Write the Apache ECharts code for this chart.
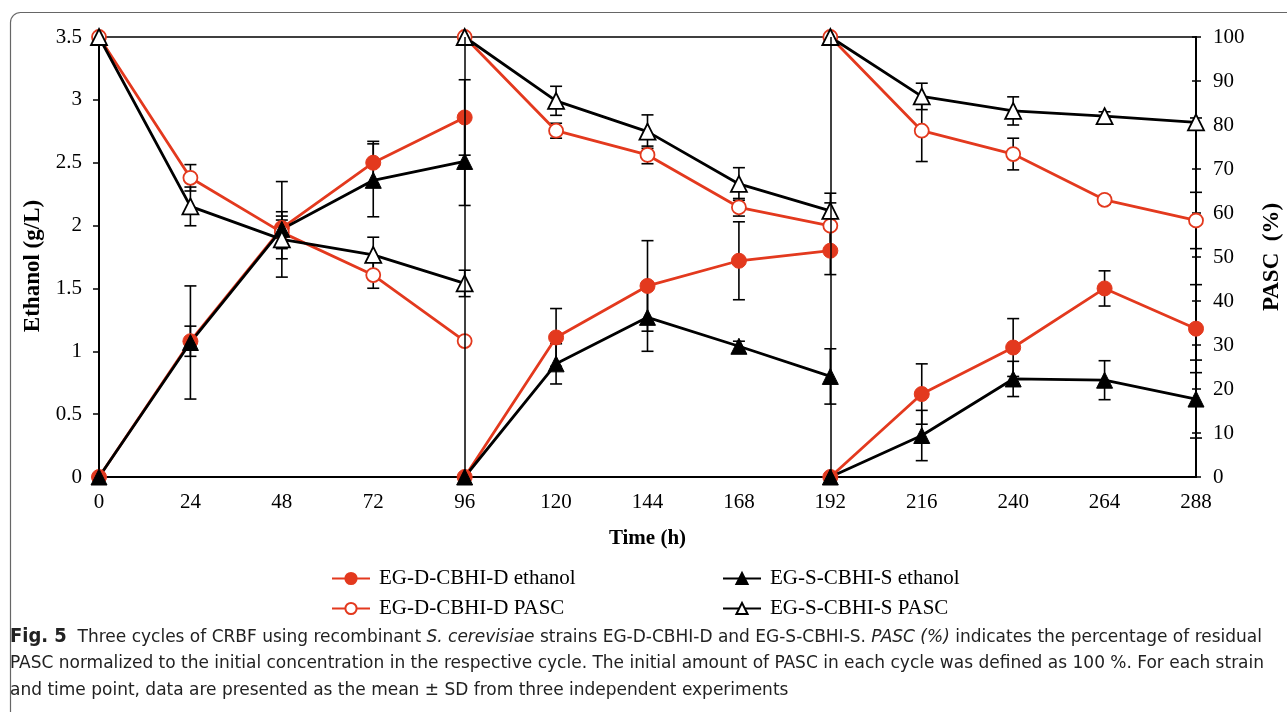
<!DOCTYPE html>
<html><head><meta charset="utf-8">
<script src="https://cdn.jsdelivr.net/npm/echarts@6/dist/echarts.min.js"></script>
<style>html,body{margin:0;padding:0;background:#fff}#c{width:1287px;height:712px}</style>
</head><body><div id="c"></div>
<script>
// Time points of the three cycles (each cycle restarts at its first point)
const timePoints = [0,24,48,72,96, 96,120,144,168,192, 192,216,240,264,288];
const cycleBreaks = [5,10];
const cycleSeparators = [96,192];

const redEthanol      = [0,1.08,1.98,2.50,2.86, 0,1.11,1.52,1.72,1.80, 0,0.66,1.03,1.50,1.18];
const redEthanolErr   = [0,0.12,0.13,0.17,0.30, 0,0.23,0.36,0.31,0.19, 0,0.24,0.23,0.14,0.35];
const blackEthanol    = [0,1.07,1.97,2.36,2.51, 0,0.90,1.27,1.04,0.80, 0,0.33,0.78,0.77,0.62];
const blackEthanolErr = [0,0.45,0.38,0.29,0.35, 0,0.16,0.27,0.04,0.22, 0,0.20,0.14,0.155,0.31];
const redPasc         = [100,68.0,55.6,45.9,30.9, 100,78.7,73.2,61.3,57.1, 100,78.7,73.4,63.0,58.3];
const redPascErr      = [0,3.0,3.7,3.0,0, 0,1.7,2.0,2.0,5.2, 0,7.0,3.6,1.0,6.4];
const blackPasc       = [100,61.5,54.0,50.5,44.0, 100,85.5,78.5,66.6,60.5, 100,86.5,83.2,82.0,80.6];
const blackPascErr    = [0,4.4,4.4,4.0,3.0, 0,3.3,3.8,3.7,4.0, 0,3.0,3.2,1.0,1.0];

const names = ['EG-D-CBHI-D ethanol','EG-S-CBHI-S ethanol','EG-D-CBHI-D PASC','EG-S-CBHI-S PASC'];
const captionLines = [
  '{b|Fig. 5}  Three cycles of CRBF using recombinant {i|S. cerevisiae} strains EG-D-CBHI-D and EG-S-CBHI-S. {i|PASC (%)} indicates the percentage of residual',
  'PASC normalized to the initial concentration in the respective cycle. The initial amount of PASC in each cycle was defined as 100 %. For each strain',
  'and time point, data are presented as the mean \u00b1 SD from three independent experiments'
];
const RED = '#e3391e', BLACK = '#000';
const SERIF = "'Liberation Serif','Times New Roman',serif";
const SANS = "'DejaVu Sans Condensed','Liberation Sans Narrow',sans-serif";

function lineData(vals){
  const out = [];
  vals.forEach((v,i)=>{ if(cycleBreaks.includes(i)) out.push([timePoints[i],'-']); out.push([timePoints[i],v]); });
  return out;
}
function errData(vals, errs){ return vals.map((v,i)=>[timePoints[i], v, errs[i]]); }

function errRender(params, api){
  const x = api.value(0), y = api.value(1), e = api.value(2);
  if(!e) return null;
  const t = api.coord([x, y+e]), b = api.coord([x, y-e]), hw = 6;
  const st = {stroke:'#000', lineWidth:1.6};
  return {type:'group', children:[
    {type:'line', shape:{x1:t[0],y1:t[1],x2:b[0],y2:b[1]}, style:st},
    {type:'line', shape:{x1:t[0]-hw,y1:t[1],x2:t[0]+hw,y2:t[1]}, style:st},
    {type:'line', shape:{x1:b[0]-hw,y1:b[1],x2:b[0]+hw,y2:b[1]}, style:st}
  ]};
}
function errSeries(vals, errs, yi){
  return {type:'custom', yAxisIndex:yi, z:1, silent:true, renderItem:errRender,
    encode:{x:0,y:1}, data:errData(vals, errs)};
}
function lineSeries(name, vals, yi, color, symbol, filled){
  return {name, type:'line', yAxisIndex:yi, z:3, data:lineData(vals), connectNulls:false,
    symbol, symbolSize: symbol==='triangle'?16:(filled?15:14), showAllSymbol:true,
    lineStyle:{color, width:2.8},
    itemStyle: filled ? {color, borderColor:color, borderWidth:1} : {color:'#fff', borderColor:color, borderWidth:1.8},
    emphasis:{disabled:true}};
}

const chart = echarts.init(document.getElementById('c'), null, {renderer:'canvas'});
const axisLbl = {color:'#000', fontFamily:SERIF, fontSize:21};
const nameStyle = {color:'#000', fontFamily:SERIF, fontSize:21, fontWeight:'bold'};

const s0 = lineSeries(names[0], redEthanol, 0, RED, 'circle', true);
s0.markLine = {symbol:'none', silent:true, label:{show:false}, animation:false,
  lineStyle:{color:'#000', width:1.5, type:'solid'}, data: cycleSeparators.map(v=>({xAxis:v}))};

const legendBase = {orient:'vertical', top:563, itemWidth:38, itemHeight:14, itemGap:9, selectedMode:false,
  textStyle:{color:'#000', fontFamily:SERIF, fontSize:21, padding:[0,0,0,4]}};

chart.setOption({
  animation:false,
  backgroundColor:'#fff',
  grid:{left:99, right:91, top:37, bottom:235, containLabel:false, outerBoundsMode:'none',
    show:true, borderColor:'#000', borderWidth:1.5, backgroundColor:'transparent'},
  xAxis:{type:'value', min:0, max:288, interval:24,
    axisLine:{show:true, lineStyle:{color:'#000', width:2}}, axisTick:{show:false}, splitLine:{show:false},
    axisLabel:Object.assign({margin:15}, axisLbl),
    name:'Time (h)', nameLocation:'middle', nameGap:51, nameTextStyle:nameStyle},
  yAxis:[
    {type:'value', min:0, max:3.5, interval:0.5, position:'left',
      axisLine:{show:true, lineStyle:{color:'#000', width:2}},
      axisTick:{show:true, inside:false, length:6, lineStyle:{color:'#000', width:1.5}},
      splitLine:{show:false}, axisLabel:Object.assign({margin:17}, axisLbl),
      name:'Ethanol (g/L)', nameLocation:'middle', nameGap:50, nameRotate:90,
      nameTextStyle:Object.assign({}, nameStyle, {fontSize:23, padding:[0,18,0,0]})},
    {type:'value', min:0, max:100, interval:10, position:'right',
      axisLine:{show:true, lineStyle:{color:'#000', width:2}},
      axisTick:{show:true, inside:false, length:5, lineStyle:{color:'#000', width:1.5}},
      splitLine:{show:false}, axisLabel:Object.assign({margin:17}, axisLbl),
      name:'PASC  (%)', nameLocation:'middle', nameGap:65, nameRotate:90,
      nameTextStyle:Object.assign({}, nameStyle, {fontSize:23})},
    {type:'value', min:0, max:100, interval:10, position:'right',
      axisLine:{show:false}, axisTick:{show:true, inside:true, length:4, lineStyle:{color:'#000', width:1.5}},
      splitLine:{show:false}, axisLabel:{show:false}}
  ],
  legend:[
    Object.assign({data:[names[0], names[2]], left:326}, legendBase),
    Object.assign({data:[names[1], names[3]], left:717}, legendBase)
  ],
  series:[
    errSeries(redEthanol, redEthanolErr, 0),
    errSeries(blackEthanol, blackEthanolErr, 0),
    errSeries(redPasc, redPascErr, 1),
    errSeries(blackPasc, blackPascErr, 1),
    s0,
    lineSeries(names[2], redPasc, 1, RED, 'circle', false),
    lineSeries(names[1], blackEthanol, 0, BLACK, 'triangle', true),
    lineSeries(names[3], blackPasc, 1, BLACK, 'triangle', false)
  ],
  graphic:[
    {type:'rect', z:-10, shape:{x:10.5, y:12.5, width:1400, height:800, r:10}, style:{fill:'none', stroke:'#666', lineWidth:1.2}},
  ].concat(captionLines.map((t,i)=>({
    type:'text', x:10, y:628 + i*26.5, scaleX:1.05, originX:0, originY:0,
    style:{text:t, font:"18px " + SANS, fill:'#222', verticalAlign:'top',
      rich:{b:{fontWeight:'bold', fontSize:19, fontFamily:SANS, fill:'#222'},
            i:{fontStyle:'italic', fontSize:18, fontFamily:SANS, fill:'#222'}}}
  })))
});
</script>
</body></html>
